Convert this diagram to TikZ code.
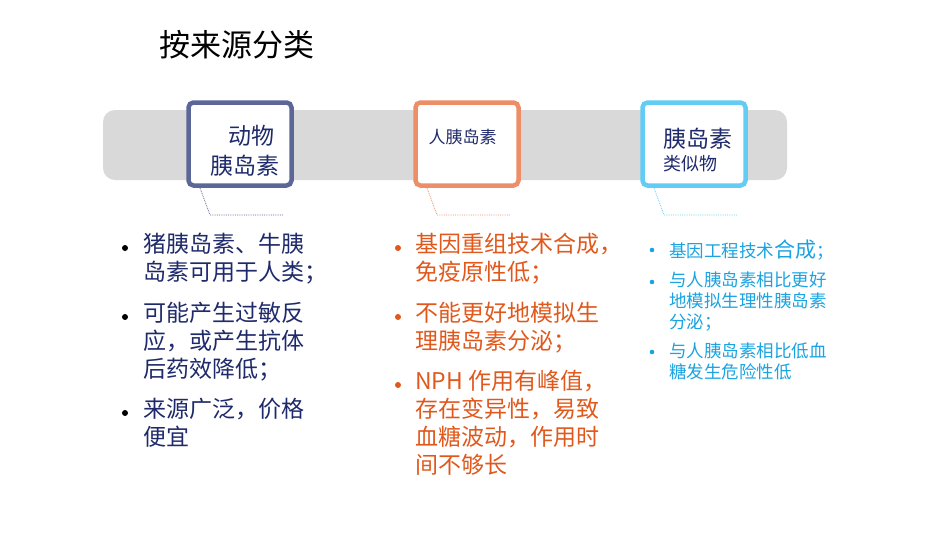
\documentclass[tikz,border=0pt]{standalone}
\usepackage{fontspec}
\newfontfamily\cjk{Noto Sans CJK SC}
\begin{document}
\begin{tikzpicture}[x=1pt,y=-1pt,font=\cjk]
\definecolor{navy}{HTML}{1F2A6B}
\definecolor{bA}{HTML}{5A6797}
\definecolor{oA}{HTML}{EE8E68}
\definecolor{cA}{HTML}{62CCF5}
\definecolor{oT}{HTML}{E0581C}
\definecolor{cT}{HTML}{1AA3E0}
\tikzset{cat/.style={draw=#1,line width=4.5pt,fill=white,rounded corners=5pt,minimum width=103pt,minimum height=83pt},
 lead/.style={draw=#1,densely dotted,line width=0.8pt},
 item/.style={anchor=north west,align=left,inner sep=0pt}}
\useasboundingbox (0,0) rectangle (950,535);
\node[anchor=west,font=\cjk\fontsize{31}{34}\selectfont] (title) at (156,45) {按来源分类};
\fill[gray!30,rounded corners=12pt] (103,110) rectangle (787,180);
\node[cat=bA] (a) at (240,144) {};
\node[cat=oA] (h) at (467,144) {};
\node[cat=cA] (s) at (694,144) {};
\node[font=\cjk\fontsize{23}{30}\selectfont,text=navy,align=center] (at) at (245,151) {\hspace*{0.6em}动物\\胰岛素};
\node[font=\cjk\fontsize{17}{19}\selectfont,text=navy,anchor=west] (ht) at (425,137) {人胰岛素};
\node[font=\cjk\fontsize{23}{26}\selectfont,text=navy,anchor=west] (st) at (660,139) {胰岛素};
\node[font=\cjk\fontsize{18}{20}\selectfont,text=navy,anchor=west] (st2) at (660,164) {类似物};
\coordinate (a1) at (200,188); \coordinate (a2) at (210,215); \coordinate (a3) at (283,215);
\coordinate (h1) at (427,188); \coordinate (h2) at (437,215); \coordinate (h3) at (510,215);
\coordinate (s1) at (654,188); \coordinate (s2) at (664,215); \coordinate (s3) at (737,215);
\draw[lead=bA] (a1)--(a2)--(a3);
\draw[lead=oA] (h1)--(h2)--(h3);
\draw[lead=cA] (s1)--(s2)--(s3);
\begin{scope}[font=\cjk\fontsize{23}{28}\selectfont,text=navy]
\node[item] (l1) at (143,233) {猪胰岛素、牛胰\\岛素可用于人类；};
\node[item] (l2) at (143,302) {可能产生过敏反\\应，或产生抗体\\后药效降低；};
\node[item] (l3) at (143,398) {来源广泛，价格\\便宜};
\foreach \y in {248,317,413} \fill (125,\y) circle (3pt);
\end{scope}
\begin{scope}[font=\cjk\fontsize{23}{28}\selectfont,text=oT]
\node[item] (m1) at (415,233) {基因重组技术合成，\\免疫原性低；};
\node[item] (m2) at (415,302) {不能更好地模拟生\\理胰岛素分泌；};
\node[item] (m3) at (415,370) {NPH 作用有峰值，\\存在变异性，易致\\血糖波动，作用时\\间不够长};
\fill[oT] (398,248) circle (3pt);
\fill[oT] (398,317) circle (3pt);
\fill[oT] (398,385) circle (3pt);
\end{scope}
\begin{scope}[font=\cjk\fontsize{17.5}{21}\selectfont,text=cT]
\node[item] (r1) at (669,240) {基因工程技术{\fontsize{21}{21}\selectfont 合成}；};
\node[item] (r2) at (669,272) {与人胰岛素相比更好\\地模拟生理性胰岛素\\分泌；};
\node[item] (r3) at (669,343) {与人胰岛素相比低血\\糖发生危险性低};
\fill[cT] (652,250) circle (2.3pt);
\fill[cT] (652,282) circle (2.3pt);
\fill[cT] (652,352) circle (2.3pt);
\end{scope}
\end{tikzpicture}
\end{document}
